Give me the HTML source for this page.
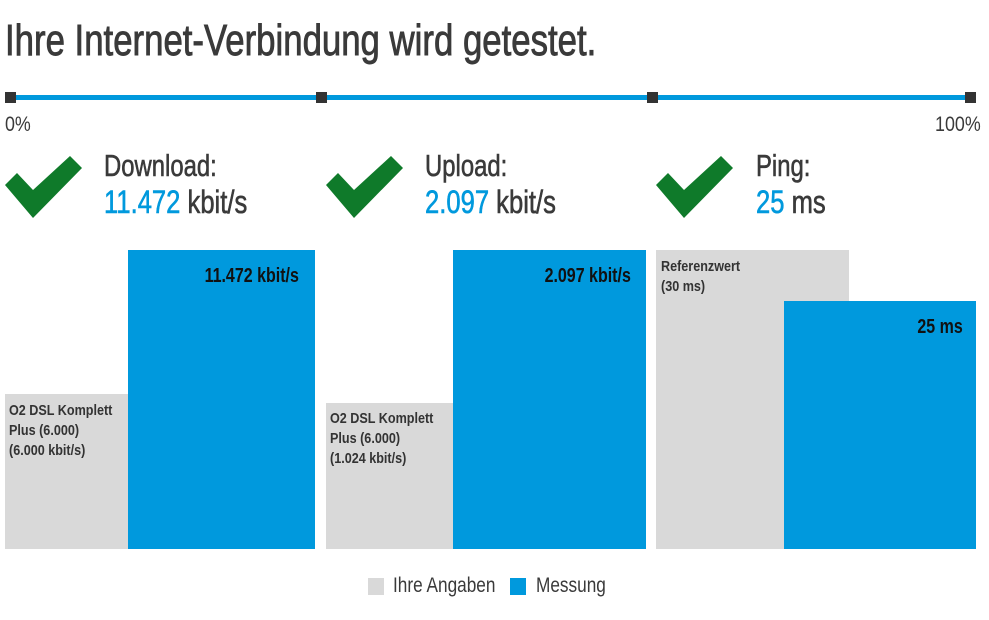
<!DOCTYPE html>
<html><head><meta charset="utf-8"><style>
body{margin:0;width:989px;height:620px;background:#fff;position:relative;overflow:hidden;font-family:"Liberation Sans",sans-serif;color:#3a3a3a}
div{position:absolute}
.t{white-space:nowrap;transform-origin:0 0}
.r{transform-origin:100% 0}
.g{background:#d9d9d9}.b{background:#0099dd}
.sq{width:11px;height:11px;background:#333;top:92px}
.lbl{font-size:31px;line-height:32px;transform:scaleX(0.77);-webkit-text-stroke:0.6px #3a3a3a}
.val{font-size:32px;line-height:34px;transform:scaleX(0.8);-webkit-text-stroke:0.6px #3a3a3a}
.val span{color:#0099dd;-webkit-text-stroke:0.6px #0099dd}
.bt{font-size:15px;line-height:20px;font-weight:bold;color:#333;transform:scaleX(0.84)}
.bv{font-size:20px;font-weight:bold;color:#111;transform:scaleX(0.8)}
</style></head><body>
<div class="t" style="left:5px;top:16px;font-size:44px;transform:scaleX(0.79);-webkit-text-stroke:0.9px #3a3a3a">Ihre Internet-Verbindung wird getestet.</div>
<div style="left:10px;top:95px;width:960px;height:5px;background:#0099dd"></div>
<div class="sq" style="left:5px"></div><div class="sq" style="left:316px"></div><div class="sq" style="left:647px"></div><div class="sq" style="left:965px"></div>
<div class="t" style="left:5px;top:113px;font-size:21px;transform:scaleX(0.85)">0%</div>
<div class="t r" style="right:8px;top:113px;font-size:21px;transform:scaleX(0.85)">100%</div>

<svg style="position:absolute;left:0;top:0" width="989" height="240">
<g fill="#0f7a2a">
<polygon points="5,185 17,173 33,190 70,156 82,168 33,218"/>
<polygon points="326,185 338,173 354,190 391,156 403,168 354,218"/>
<polygon points="656,185 668,173 684,190 721,156 733,168 684,218"/>
</g></svg>
<div class="t lbl" style="left:104px;top:150px">Download:</div>
<div class="t val" style="left:104px;top:185px"><span>11.472</span> kbit/s</div>
<div class="t lbl" style="left:425px;top:150px">Upload:</div>
<div class="t val" style="left:425px;top:185px"><span>2.097</span> kbit/s</div>
<div class="t lbl" style="left:756px;top:150px">Ping:</div>
<div class="t val" style="left:756px;top:185px"><span>25</span> ms</div>

<div class="g" style="left:5px;top:394px;width:123px;height:155px"></div>
<div class="b" style="left:128px;top:250px;width:187px;height:299px"></div>
<div class="t bt" style="left:9px;top:401px">O2 DSL Komplett<br>Plus (6.000)<br>(6.000 kbit/s)</div>
<div class="t bv r" style="right:690px;top:265px">11.472 kbit/s</div>

<div class="g" style="left:326px;top:403px;width:127px;height:146px"></div>
<div class="b" style="left:453px;top:250px;width:193px;height:299px"></div>
<div class="t bt" style="left:330px;top:409px">O2 DSL Komplett<br>Plus (6.000)<br>(1.024 kbit/s)</div>
<div class="t bv r" style="right:358px;top:265px">2.097 kbit/s</div>

<div class="g" style="left:656px;top:250px;width:193px;height:299px"></div>
<div class="b" style="left:784px;top:301px;width:192px;height:248px"></div>
<div class="t bt" style="left:661px;top:257px">Referenzwert<br>(30 ms)</div>
<div class="t bv r" style="right:26px;top:316px">25 ms</div>

<div class="g" style="left:368px;top:578px;width:16px;height:17px"></div>
<div class="t" style="left:393px;top:574px;font-size:21px;transform:scaleX(0.82)">Ihre Angaben</div>
<div class="b" style="left:510px;top:578px;width:16px;height:17px"></div>
<div class="t" style="left:536px;top:574px;font-size:21px;transform:scaleX(0.82)">Messung</div>
</body></html>
